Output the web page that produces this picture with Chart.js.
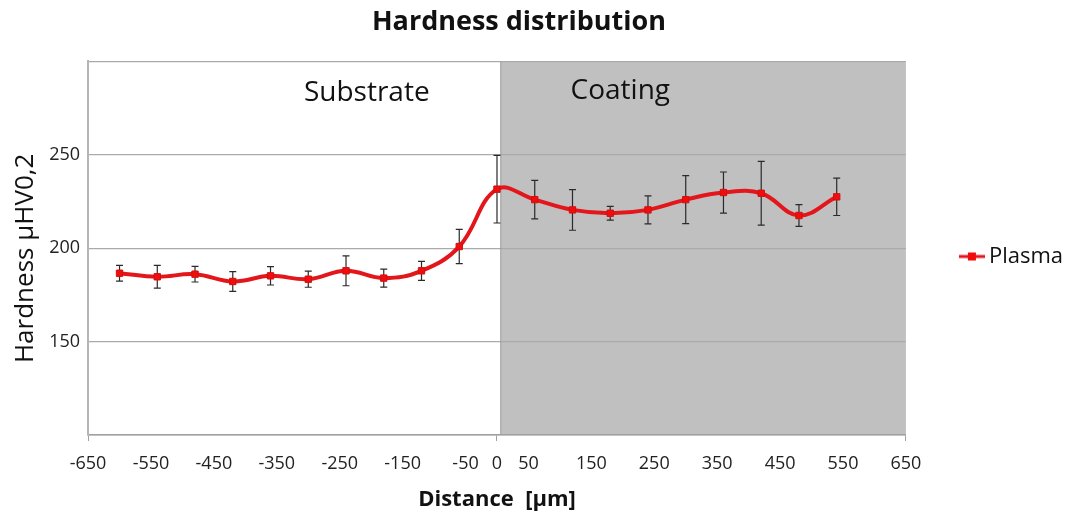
<!DOCTYPE html>
<html>
<head>
<meta charset="utf-8">
<script src="https://cdn.jsdelivr.net/npm/chart.js@4.4.1/dist/chart.umd.min.js"></script>
<style>
  html, body { margin: 0; padding: 0; background: #fff; }
  #wrap { width: 1067px; height: 513px; }
</style>
</head>
<body>
<div id="wrap"><canvas id="chartHardness"></canvas></div>
<script>
// values
const distance = [-600, -540, -480, -420, -360, -300, -240, -180, -120, -60, 0,
                  60, 120, 180, 240, 300, 360, 420, 480, 540];
const hardness = [186.6, 184.7, 186.1, 182.2, 185.2, 183.4, 187.9, 184.0, 187.9, 200.9, 231.6,
                  226.0, 220.5, 218.7, 220.5, 226.0, 229.8, 229.4, 217.5, 227.5];
const hardnessErr = [4.2, 6.1, 4.2, 5.3, 4.9, 4.3, 8.0, 4.8, 5.1, 9.2, 18.1,
                     10.3, 10.9, 3.7, 7.5, 12.8, 11.0, 17.1, 5.8, 10.0];
const xTicks = [-650, -550, -450, -350, -250, -150, -50, 0, 50, 150, 250, 350, 450, 550, 650];
const yTicks = [150, 200, 250];
const coatingStart = 6;

const FONT = "'Open Sans', Lato, sans-serif";
const lineColor = '#e3161b';
const pointColor = '#f20d0d';

// legend marker: line with square (drawn on the right part of the image)
const mark = document.createElement('canvas');
mark.width = 34; mark.height = 10;
const m = mark.getContext('2d');
m.strokeStyle = lineColor; m.lineWidth = 3;
m.beginPath(); m.moveTo(8, 5); m.lineTo(34, 5); m.stroke();
m.fillStyle = pointColor; m.fillRect(17, 1, 8, 8);

const zonas = {
    id: 'zonas',
    beforeDraw(chart) {
        const { ctx, chartArea: a, scales: { x } } = chart;
        const x0 = x.getPixelForValue(coatingStart);
        ctx.save();
        ctx.fillStyle = '#c0c0c0';
        ctx.fillRect(x0, a.top, a.right - x0, a.bottom - a.top);
        ctx.restore();
    },
    beforeDatasetsDraw(chart) {
        const { ctx, chartArea: a, scales: { x, y } } = chart;
        const x0 = x.getPixelForValue(coatingStart);
        ctx.save();
        ctx.strokeStyle = '#9a9a9a';
        ctx.lineWidth = 1;
        ctx.beginPath(); ctx.moveTo(x0, a.top); ctx.lineTo(x0, a.bottom); ctx.stroke();

        ctx.fillStyle = '#111';
        ctx.font = `28px ${FONT}`;
        ctx.textAlign = 'center';
        ctx.textBaseline = 'middle';
        ctx.fillText('Substrate', x.getPixelForValue(-207), y.getPixelForValue(283));
        ctx.fillText('Coating', x.getPixelForValue(196), y.getPixelForValue(284));

        // error bars
        ctx.strokeStyle = '#2a2a2a';
        ctx.lineWidth = 1.2;
        distance.forEach((d, i) => {
            const px = x.getPixelForValue(d);
            const top = y.getPixelForValue(hardness[i] + hardnessErr[i]);
            const bot = y.getPixelForValue(hardness[i] - hardnessErr[i]);
            ctx.beginPath();
            ctx.moveTo(px, top); ctx.lineTo(px, bot);
            ctx.moveTo(px - 3.5, top); ctx.lineTo(px + 3.5, top);
            ctx.moveTo(px - 3.5, bot); ctx.lineTo(px + 3.5, bot);
            ctx.stroke();
        });
        ctx.restore();
    }
};

const ctx = document.getElementById('chartHardness').getContext('2d');
new Chart(ctx, {
    type: 'line',
    data: {
        datasets: [{
            label: 'Plasma',
            data: distance.map((d, i) => ({ x: d, y: hardness[i] })),
            borderColor: lineColor,
            borderWidth: 4,
            tension: 0.4,
            pointStyle: 'rect',
            pointRadius: 4.5,
            pointBackgroundColor: pointColor,
            pointBorderColor: '#d01010',
            pointBorderWidth: 1
        }]
    },
    options: {
        responsive: true,
        maintainAspectRatio: false,
        animation: false,
        layout: { padding: { left: 0, right: -6, top: 0, bottom: 0 } },
        scales: {
            x: {
                type: 'linear',
                min: -650, max: 650,
                afterBuildTicks: axis => { axis.ticks = xTicks.map(v => ({ value: v })); },
                ticks: {
                    autoSkip: false, maxRotation: 0, padding: 12,
                    color: '#222', font: { family: FONT, size: 18 },
                    callback: v => v
                },
                grid: {
                    drawOnChartArea: false, tickLength: 6,
                    color: c => [-650, 0, 650].includes(c.tick && c.tick.value) ? '#a0a0a0' : 'rgba(0,0,0,0)'
                },
                border: { color: '#a0a0a0', width: 1.5 },
                title: {
                    display: true, text: 'Distance  [µm]', color: '#111',
                    font: { family: FONT, size: 22, weight: 'bold' },
                    padding: { top: 0, bottom: 0 }
                }
            },
            y: {
                min: 100, max: 300,
                afterBuildTicks: axis => { axis.ticks = [100, ...yTicks, 300].map(v => ({ value: v })); },
                ticks: {
                    padding: 8, color: '#222', font: { family: FONT, size: 18 },
                    callback: v => yTicks.includes(v) ? v : ''
                },
                grid: { color: '#aaaaaa', lineWidth: 1.2, tickLength: 0, drawTicks: false },
                border: { color: '#b5b5b5', width: 2 },
                title: {
                    display: true, text: 'Hardness µHV0,2   ', color: '#111',
                    font: { family: FONT, size: 26 },
                    padding: { top: 10, bottom: 0 }
                }
            },
            gap: {
                position: 'right',
                display: true,
                ticks: { display: false },
                grid: { display: false },
                border: { display: false },
                afterFit: s => { s.width = 52; }
            }
        },
        plugins: {
            title: {
                display: true, text: 'Hardness distribution     ', color: '#111',
                font: { family: FONT, size: 27, weight: 'bold' },
                padding: { top: 6, bottom: 23 }
            },
            legend: {
                position: 'right',
                labels: {
                    usePointStyle: true, pointStyle: mark, pointStyleWidth: 20,
                    color: '#111', font: { family: FONT, size: 22 }, padding: 0
                }
            },
            tooltip: { enabled: false }
        }
    },
    plugins: [zonas]
});
</script>
</body>
</html>
